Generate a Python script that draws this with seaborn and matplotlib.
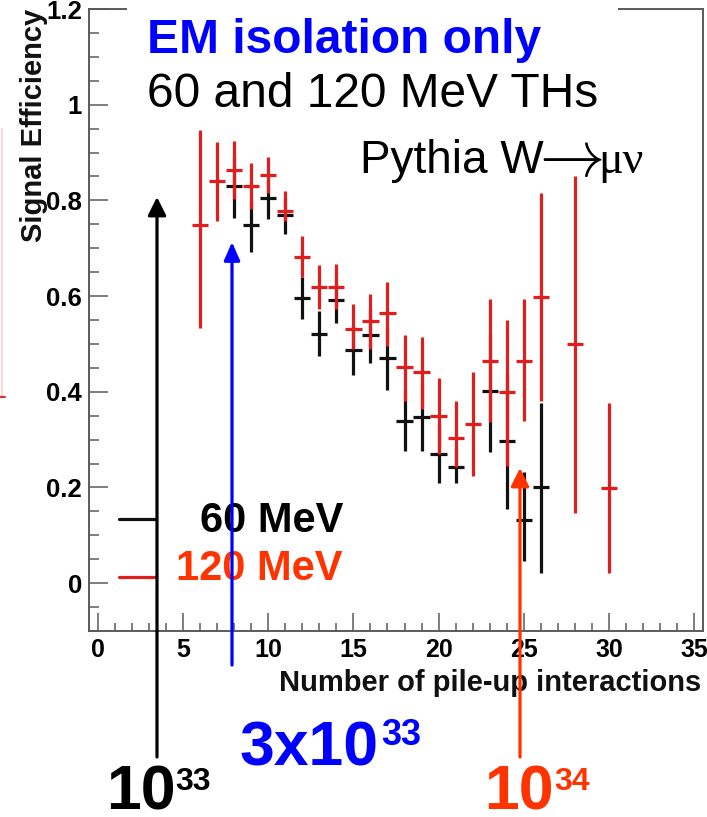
import matplotlib
matplotlib.use("Agg")
import matplotlib.pyplot as plt
from matplotlib.ticker import MultipleLocator, FuncFormatter
from matplotlib.patches import Rectangle, FancyArrowPatch
from matplotlib.lines import Line2D
import seaborn as sns
import pandas as pd

# ---- data: signal efficiency vs. number of pile-up interactions ----
pileup_60 = [8, 9, 10, 11, 12, 13, 14, 15, 16, 17, 18, 19, 20, 21, 23, 24, 25, 26]
eff_60 = [0.830, 0.748, 0.805, 0.769, 0.597, 0.520, 0.591, 0.488, 0.519, 0.471,
          0.338, 0.348, 0.270, 0.242, 0.401, 0.298, 0.133, 0.200]
err_lo_60 = [0.067, 0.056, 0.043, 0.040, 0.044, 0.045, 0.047, 0.053, 0.058, 0.068,
             0.062, 0.071, 0.061, 0.033, 0.127, 0.142, 0.087, 0.179]
err_hi_60 = [0.060, 0.050, 0.040, 0.037, 0.042, 0.048, 0.045, 0.050, 0.055, 0.065,
             0.065, 0.070, 0.065, 0.040, 0.120, 0.140, 0.100, 0.177]

pileup_120 = [6, 7, 8, 9, 10, 11, 12, 13, 14, 15, 16, 17, 18, 19, 20, 21, 22, 23,
              24, 25, 26, 28, 30]
eff_120 = [0.748, 0.840, 0.864, 0.831, 0.853, 0.778, 0.682, 0.620, 0.620, 0.532,
           0.548, 0.565, 0.452, 0.442, 0.350, 0.303, 0.333, 0.465, 0.399, 0.465,
           0.598, 0.499, 0.199]
err_lo_120 = [0.215, 0.084, 0.062, 0.048, 0.038, 0.022, 0.043, 0.046, 0.046, 0.042,
              0.058, 0.069, 0.071, 0.078, 0.080, 0.061, 0.110, 0.129, 0.155, 0.127,
              0.218, 0.352, 0.178]
err_hi_120 = [0.200, 0.081, 0.061, 0.047, 0.037, 0.042, 0.043, 0.044, 0.046, 0.051,
              0.057, 0.065, 0.066, 0.073, 0.078, 0.078, 0.109, 0.129, 0.152, 0.128,
              0.217, 0.351, 0.177]

series_labels = ["60 MeV", "120 MeV"]
x_ticks = [0, 5, 10, 15, 20, 25, 30, 35]
y_ticks = [0, 0.2, 0.4, 0.6, 0.8, 1.0, 1.2]

df60 = pd.DataFrame({"pileup": pileup_60, "eff": eff_60, "lo": err_lo_60, "hi": err_hi_60})
df120 = pd.DataFrame({"pileup": pileup_120, "eff": eff_120, "lo": err_lo_120, "hi": err_hi_120})

# ---- styling ----
sns.set_theme(style="white")
plt.rcParams["font.family"] = ["Liberation Sans", "DejaVu Sans"]

W, H = 707, 817
fig = plt.figure(figsize=(W / 100, H / 100), dpi=100)
fig.patch.set_facecolor("white")


def fp(x, y):
    """image pixel (top-left origin) -> figure fraction"""
    return x / W, 1 - y / H


# axes frame: left 89px, right 703px, top 9px, bottom 631px
ax = fig.add_axes([89 / W, 1 - 631 / H, (703 - 89) / W, (631 - 9) / H])
ax.set_facecolor("white")

BLACK = "#111111"
RED = "#e01e1e"
ORANGE = "#ff3300"
BLUE = "#0000ff"
FRAME = "#5a5a5a"

for d, col in [(df60, BLACK), (df120, RED)]:
    ax.errorbar(d["pileup"], d["eff"], xerr=0.48, yerr=[d["lo"], d["hi"]],
                fmt="none", ecolor=col, elinewidth=2.3, capsize=0)

ax.set_xlim(-0.5, 35.5)
ax.set_ylim(-0.1, 1.2)
ax.set_xticks(x_ticks)
ax.set_yticks(y_ticks)
ax.xaxis.set_minor_locator(MultipleLocator(1))
ax.yaxis.set_minor_locator(MultipleLocator(0.05))
ax.yaxis.set_major_formatter(FuncFormatter(lambda v, p: f"{v:g}"))
ax.tick_params(which="both", direction="in", colors=FRAME, labelcolor="black",
               bottom=True, left=True, top=False, right=False)
ax.tick_params(axis="y", which="major", length=13.5, width=1.1, pad=5, labelsize=18.5)
ax.tick_params(axis="y", which="minor", length=7, width=1.1)
ax.tick_params(axis="x", which="major", length=13, width=1.1, pad=5, labelsize=18)
ax.tick_params(axis="x", which="minor", length=6, width=1.1)
for lab in ax.get_xticklabels() + ax.get_yticklabels():
    lab.set_fontweight("bold")
for s in ax.spines.values():
    s.set_color(FRAME)
    s.set_linewidth(1.4)

ax.set_xlabel("Number of pile-up interactions", loc="right", fontsize=21,
              fontweight="bold", color="#111111")
ax.xaxis.set_label_coords(1 - 2 / 614, -0.061)
ax.set_ylabel("Signal Efficiency", loc="top", fontsize=21, fontweight="bold",
              color="#111111")
ax.yaxis.set_label_coords(-0.066, 1.0)

# white panel behind the title lines
fig.patches.append(Rectangle(fp(127, 115), (618 - 127) / W, 115 / H,
                             transform=fig.transFigure, facecolor="white",
                             edgecolor="none", zorder=1))

# edge of the neighbouring panel
fig.add_artist(Line2D([2 / W, 2 / W], [1 - 129 / H, 1 - 397 / H],
                      color="#ffd0d0", lw=1.2, zorder=1))
fig.add_artist(Line2D([0, 5 / W], [1 - 397 / H, 1 - 397 / H],
                      color="#e03030", lw=1.5, zorder=1))

# titles
fig.text(*fp(147, 53), "EM isolation only", color=BLUE, fontsize=34.5,
         fontweight="bold", va="baseline", ha="left", zorder=3)
fig.text(*fp(147, 107), "60 and 120 MeV THs", color="black", fontsize=34.5,
         va="baseline", ha="left", zorder=3)
fig.text(*fp(360, 173), "Pythia W", color="black", fontsize=33,
         va="baseline", ha="left", zorder=3)
fig.text(*fp(528, 176), r"$\rightarrow$", color="black", fontsize=47,
         math_fontfamily="cm", va="baseline", ha="left", zorder=3)
fig.text(*fp(598, 173), "\u03bc\u03bd", color="black", fontsize=33,
         family=["Liberation Serif", "DejaVu Serif"], va="baseline", ha="left",
         zorder=3)

# legend
for (y_line, col), (label, tcol, base) in zip(
        [(519, BLACK), (577, RED)],
        [(series_labels[0], "black", 532), (series_labels[1], ORANGE, 580)]):
    fig.add_artist(Line2D([119 / W, 156 / W], [1 - y_line / H] * 2, color=col,
                          lw=2.3, zorder=2))
    fig.text(*fp(343, base), label, color=tcol, fontsize=30, fontweight="bold",
             ha="right", va="baseline", zorder=3)


# luminosity arrows
def arrow(x, y_tip, y_tail, col, hw):
    fig.add_artist(FancyArrowPatch(
        (x / W, 1 - y_tail / H), (x / W, 1 - y_tip / H),
        transform=fig.transFigure,
        arrowstyle=f"-|>,head_length={1.1},head_width={hw}",
        mutation_scale=10, color=col, lw=2.3, shrinkA=0, shrinkB=0, zorder=4))


arrow(157, 197, 757, "black", 0.55)
arrow(232, 242, 665, BLUE, 0.48)
arrow(520, 468, 757, ORANGE, 0.55)

# luminosity labels
fig.text(*fp(106, 810), "10", color="black", fontsize=45, fontweight="bold",
         ha="left", va="baseline", zorder=3)
fig.text(*fp(175, 790), "33", color="black", fontsize=23, fontweight="bold",
         ha="left", va="baseline", zorder=3)
fig.text(*fp(240, 765), "3x10", color=BLUE, fontsize=45, fontweight="bold",
         ha="left", va="baseline", zorder=3)
fig.text(*fp(381, 745), "33", color=BLUE, fontsize=26, fontweight="bold",
         ha="left", va="baseline", zorder=3)
fig.text(*fp(484, 810), "10", color=ORANGE, fontsize=45, fontweight="bold",
         ha="left", va="baseline", zorder=3)
fig.text(*fp(554, 790), "34", color=ORANGE, fontsize=23, fontweight="bold",
         ha="left", va="baseline", zorder=3)

fig.savefig("out.png", dpi=100, facecolor="white")
